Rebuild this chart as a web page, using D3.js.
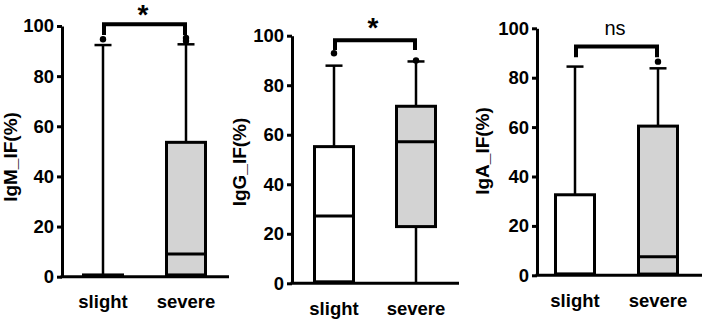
<!DOCTYPE html>
<html><head><meta charset="utf-8">
<script src="https://cdn.jsdelivr.net/npm/d3@7"></script>
<style>
html,body{margin:0;padding:0;background:#fff;}
svg{display:block;font-family:"Liberation Sans",Arial,sans-serif;}
</style></head>
<body><svg id="c" width="702" height="320"></svg>
<script>
const categories = ["slight", "severe"];
const yTicks = [0, 20, 40, 60, 80, 100];
const panelLabels = ["IgM_IF(%)", "IgG_IF(%)", "IgA_IF(%)"];
const significance = ["*", "*", "ns"];
// [min, q1, median, q3, max]
const igmStats = [[0, 0.3, 0.5, 0.7, 92.4], [0, 0.7, 9.1, 53.6, 92.7]];
const iggStats = [[0, 0.6, 27.2, 55.2, 87.9], [0, 22.9, 57.2, 71.5, 89.6]];
const igaStats = [[0, 0.4, 0.5, 32.6, 84.5], [0, 0.5, 7.5, 60.4, 83.8]];
const igmOutliers = [[94.7], [94.0, 95.2]];
const iggOutliers = [[92.9], [90.0]];
const igaOutliers = [[], [86.5]];
// bracket: [top value, end value]
const brackets = [[100.7, 96.4], [98.2, 94.2], [92.6, 88.3]];

const panels = [
  {stats: igmStats, out: igmOutliers, ax: 62, xEnd: 229, y0: 276.7, y100: 26, xr: [103, 186],
   labX: 16.5, labY: 157, catY: 308, sigX: 143, sigY: 24},
  {stats: iggStats, out: iggOutliers, ax: 292, xEnd: 459, y0: 283.3, y100: 35.7, xr: [334, 416],
   labX: 246, labY: 162, catY: 315, sigX: 373, sigY: 37},
  {stats: igaStats, out: igaOutliers, ax: 537, xEnd: 702, y0: 275.3, y100: 28.3, xr: [575, 658],
   labX: 489, labY: 151, catY: 307, sigX: 615, sigY: 35}
];

const svg = d3.select("#c");
const boxW = 39, capW = 16;
const fills = ["#ffffff", "#d3d3d3"];

panels.forEach((p, i) => {
  const y = d3.scaleLinear().domain([0, 100]).range([p.y0, p.y100]);
  const x = d3.scalePoint().domain(categories).range(p.xr);
  const g = svg.append("g");

  // y axis
  const yAx = g.append("g").attr("transform", `translate(${p.ax},0)`)
    .call(d3.axisLeft(y).tickValues(yTicks).tickSize(5).tickPadding(3).tickSizeOuter(0));
  yAx.select(".domain").attr("stroke", "#000").attr("stroke-width", 3);
  yAx.selectAll(".tick line").attr("stroke", "#000").attr("stroke-width", 3);
  yAx.selectAll(".tick text").attr("fill", "#000").attr("font-size", 18.5).attr("font-weight", "bold")
    .attr("font-family", "Liberation Sans, Arial, sans-serif");

  // x axis line
  g.append("line").attr("x1", p.ax - 1.5).attr("x2", p.xEnd).attr("y1", y(0)).attr("y2", y(0))
    .attr("stroke", "#000").attr("stroke-width", 3);

  // category labels
  categories.forEach(c => {
    g.append("text").attr("x", x(c)).attr("y", p.catY).attr("text-anchor", "middle")
      .attr("font-size", 18.5).attr("font-weight", "bold").text(c);
  });

  // y label
  g.append("text").attr("transform", `translate(${p.labX},${p.labY}) rotate(-90)`)
    .attr("text-anchor", "middle").attr("font-size", 19).attr("font-weight", "bold").text(panelLabels[i]);

  // boxes
  categories.forEach((c, j) => {
    const [mn, q1, md, q3, mx] = p.stats[j];
    const cx = x(c);
    g.append("line").attr("x1", cx).attr("x2", cx).attr("y1", y(q3)).attr("y2", y(mx))
      .attr("stroke", "#000").attr("stroke-width", 2.5);
    g.append("line").attr("x1", cx).attr("x2", cx).attr("y1", y(mn)).attr("y2", y(q1))
      .attr("stroke", "#000").attr("stroke-width", 2.5);
    g.append("line").attr("x1", cx - capW / 2 - 0.5).attr("x2", cx + capW / 2 + 0.5).attr("y1", y(mx)).attr("y2", y(mx))
      .attr("stroke", "#000").attr("stroke-width", 2.5);
    g.append("rect").attr("x", cx - boxW / 2).attr("width", boxW)
      .attr("y", y(q3)).attr("height", Math.max(0.1, y(q1) - y(q3)))
      .attr("fill", fills[j]).attr("stroke", "#000").attr("stroke-width", 3);
    g.append("line").attr("x1", cx - boxW / 2).attr("x2", cx + boxW / 2).attr("y1", y(md)).attr("y2", y(md))
      .attr("stroke", "#000").attr("stroke-width", 3);
    p.out[j].forEach(v => {
      g.append("circle").attr("cx", cx).attr("cy", y(v)).attr("r", 3.2).attr("fill", "#000");
    });
  });

  // significance bracket
  const [bt, be] = brackets[i];
  const x1 = x(categories[0]) + 1, x2 = x(categories[1]) - 1;
  g.append("path").attr("d", `M${x1},${y(be)}V${y(bt)}H${x2}V${y(be)}`)
    .attr("fill", "none").attr("stroke", "#000").attr("stroke-width", 4);
  const s = significance[i];
  g.append("text").attr("x", p.sigX).attr("y", p.sigY).attr("text-anchor", "middle")
    .attr("font-size", s === "*" ? 28 : 20).attr("font-weight", s === "*" ? "bold" : "normal").text(s);
});
</script></body></html>
